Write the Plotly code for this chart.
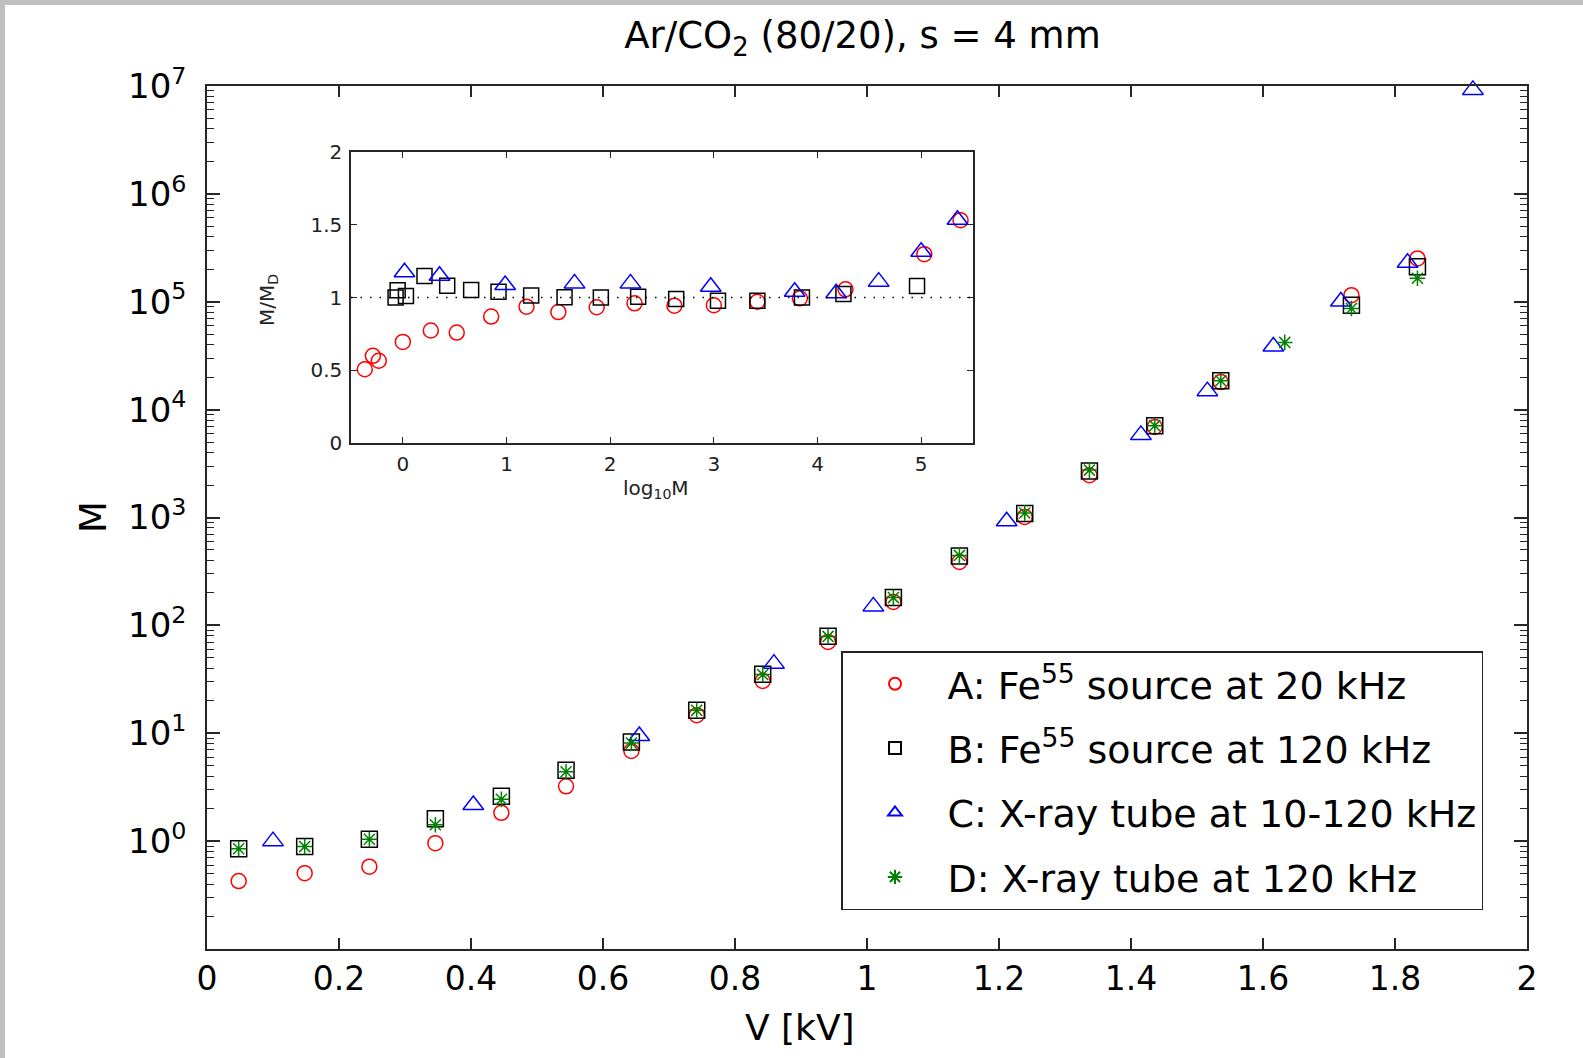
import plotly.graph_objects as go

# ---------------- main plot data ----------------
a_v = [0.048, 0.148, 0.246, 0.346, 0.446, 0.544, 0.643, 0.742, 0.842, 0.941,
       1.040, 1.140, 1.239, 1.337, 1.436, 1.536, 1.734, 1.834]
a_m = [0.426, 0.505, 0.58, 0.958, 1.83, 3.22, 6.84, 14.7, 30.5, 70.2,
       165, 387, 1012, 2466, 6900, 18000, 115000, 252000]

b_v = [0.048, 0.148, 0.246, 0.346, 0.446, 0.544, 0.643, 0.742, 0.842, 0.941,
       1.040, 1.140, 1.239, 1.337, 1.436, 1.536, 1.734, 1.834]
b_m = [0.85, 0.89, 1.04, 1.61, 2.61, 4.53, 8.28, 16.3, 35.2, 79.2,
       181, 440, 1089, 2703, 7070, 18480, 93000, 211000]

c_v = [0.100, 0.4035, 0.655, 0.859, 1.0096, 1.2116, 1.415, 1.5157, 1.6157, 1.718, 1.819, 1.918]
c_m = [1.0, 2.16, 9.42, 44.2, 150, 923, 5830, 14830, 38500, 100700, 229700, 9.2e6]

d_v = [0.048, 0.148, 0.246, 0.346, 0.446, 0.544, 0.643, 0.742, 0.842, 0.941,
       1.040, 1.140, 1.239, 1.337, 1.436, 1.536, 1.633, 1.734, 1.834]
d_m = [0.85, 0.89, 1.04, 1.42, 2.44, 4.4, 8.1, 16.3, 35.0, 79.0,
       181, 445, 1100, 2750, 7100, 18500, 42000, 86700, 165000]

# ---------------- inset data (log10 M vs M/M_D) ----------------
ia_x = [-0.367, -0.289, -0.232, 0.0, 0.27, 0.52, 0.852, 1.193, 1.50, 1.87,
        2.235, 2.62, 3.0, 3.42, 3.83, 4.27, 5.03, 5.38]
ia_y = [0.507, 0.599, 0.565, 0.695, 0.773, 0.759, 0.869, 0.937, 0.90, 0.933,
        0.96, 0.944, 0.947, 0.971, 0.994, 1.056, 1.298, 1.531]

ib_x = [-0.07, -0.05, 0.03, 0.209, 0.428, 0.659, 0.923, 1.238, 1.56, 1.91,
        2.27, 2.637, 3.04, 3.42, 3.85, 4.25, 4.96]
ib_y = [1.0, 1.05, 1.01, 1.147, 1.081, 1.051, 1.04, 1.013, 1.001, 1.0,
        1.006, 0.99, 0.978, 0.978, 1.0, 1.024, 1.079]

ic_x = [0.016, 0.354, 0.987, 1.656, 2.196, 2.97, 3.78, 4.18, 4.59, 5.0, 5.35]
ic_y = [1.173, 1.15, 1.086, 1.097, 1.097, 1.074, 1.04, 1.029, 1.109, 1.314, 1.534]

x_ticks = [0, 0.2, 0.4, 0.6, 0.8, 1.0, 1.2, 1.4, 1.6, 1.8, 2.0]
y_decades = [-1, 0, 1, 2, 3, 4, 5, 6, 7]
names = ["A: Fe<sup>55</sup> source at 20 kHz",
         "B: Fe<sup>55</sup> source at 120 kHz",
         "C: X-ray tube at 10-120 kHz",
         "D: X-ray tube at 120 kHz"]

FONT = "DejaVu Sans"
RED, BLK, BLU, GRN = "#ff0000", "#000000", "#0000ff", "#008000"

fig = go.Figure()

def mk(symbol, color, size, width=1.5):
    return dict(symbol=symbol, size=size, color=color, line=dict(color=color, width=width))

fig.add_trace(go.Scatter(x=a_v, y=a_m, mode="markers", name=names[0], legendgroup="a",
                         marker=mk("circle-open", RED, 15), cliponaxis=False))
fig.add_trace(go.Scatter(x=b_v, y=b_m, mode="markers", name=names[1], legendgroup="b",
                         marker=mk("square-open", BLK, 16), cliponaxis=False))
fig.add_trace(go.Scatter(x=c_v, y=c_m, mode="markers", name=names[2], legendgroup="c",
                         marker=mk("triangle-up-open", BLU, 18), cliponaxis=False))
fig.add_trace(go.Scatter(x=d_v, y=d_m, mode="markers", name=names[3], legendgroup="d",
                         marker=mk("asterisk-open", GRN, 13), cliponaxis=False))

fig.add_trace(go.Scatter(x=ia_x, y=ia_y, mode="markers", showlegend=False,
                         marker=mk("circle-open", RED, 15), xaxis="x2", yaxis="y2"))
fig.add_trace(go.Scatter(x=ib_x, y=ib_y, mode="markers", showlegend=False,
                         marker=mk("square-open", BLK, 15), xaxis="x2", yaxis="y2"))
fig.add_trace(go.Scatter(x=ic_x, y=ic_y, mode="markers", showlegend=False,
                         marker=mk("triangle-up-open", BLU, 18), xaxis="x2", yaxis="y2"))

W, H = 1583, 1058
L, R, T, B = 207, 1527, 86, 949
pw, ph = R - L, B - T

def px(X):
    return (X - L) / pw

def py(Y):
    return (B - Y) / ph

major_vals = [10.0 ** d for d in y_decades]
major_text = [""] + ["10<sup>%d</sup>" % d for d in y_decades[1:]]
minor_vals = [k * 10.0 ** d for d in y_decades[:-1] for k in range(2, 10)]

axis_line = "#262626"

fig.update_layout(
    width=W, height=H,
    margin=dict(l=L, r=W - R, t=T, b=H - B, pad=0),
    paper_bgcolor="white", plot_bgcolor="white",
    font=dict(family=FONT, size=33, color="black"),
    title=dict(text="Ar/CO<sub>2</sub> (80/20), s = 4 mm", x=0.4966, xref="paper",
               y=1 - 35 / H, yref="container", xanchor="center", yanchor="middle",
               font=dict(family=FONT, size=37, color="black")),
    xaxis=dict(range=[0, 2], tickmode="array", tickvals=x_ticks, ticks="inside", ticklen=11,
               tickwidth=1.5, tickcolor=axis_line, showline=True, linewidth=1.5,
               linecolor=axis_line, mirror="allticks", showgrid=False, zeroline=False,
               tickfont=dict(family=FONT, size=33, color="black"), ticklabelstandoff=0),
    yaxis=dict(type="log", range=[-1, 7], tickmode="array", tickvals=major_vals,
               ticktext=major_text, ticks="inside", ticklen=13, tickwidth=1.5,
               tickcolor=axis_line, showline=True, linewidth=1.5, linecolor=axis_line,
               mirror="allticks", showgrid=False, zeroline=False,
               tickfont=dict(family=FONT, size=34, color="black"), ticklabelstandoff=12,
               minor=dict(tickmode="array", tickvals=minor_vals, ticks="inside", ticklen=7,
                          tickwidth=1.2, tickcolor=axis_line, showgrid=False)),
    xaxis2=dict(domain=[px(351), px(973)], anchor="y2", range=[-0.5, 5.5], tickmode="array",
                tickvals=[0, 1, 2, 3, 4, 5], ticks="inside", ticklen=6, tickwidth=1.2,
                tickcolor=axis_line, showline=True, linewidth=1.5, linecolor=axis_line,
                mirror="allticks", showgrid=False, zeroline=False,
                tickfont=dict(family=FONT, size=20, color="#222"), ticklabelstandoff=2),
    yaxis2=dict(domain=[py(443), py(152)], anchor="x2", range=[0, 2], tickmode="array",
                tickvals=[0, 0.5, 1, 1.5, 2], ticktext=["0", "0.5", "1", "1.5", "2"],
                ticks="inside", ticklen=6, tickwidth=1.2,
                tickcolor=axis_line, showline=True, linewidth=1.5, linecolor=axis_line,
                mirror="allticks", showgrid=False, zeroline=False,
                tickfont=dict(family=FONT, size=20, color="#222"), ticklabelstandoff=3),
    legend=dict(x=px(841), y=py(651), xanchor="left", yanchor="top",
                bgcolor="white", bordercolor="#222", borderwidth=1.5,
                font=dict(family=FONT, size=38, color="black"),
                itemwidth=95, tracegroupgap=12, itemsizing="constant"),
    showlegend=True,
)

fig.add_shape(type="rect", xref="x2 domain", yref="y2 domain", x0=0, x1=1, y0=0, y1=1,
              fillcolor="#f5f5f5", line=dict(width=0), layer="below")
fig.add_shape(type="line", xref="x2 domain", yref="y2", x0=0, x1=1, y0=1, y1=1,
              line=dict(color="black", width=1.5, dash="1.5px,8px"), layer="above")

# grey window border strips (top and left)
fig.add_shape(type="rect", xref="paper", yref="paper", x0=px(0), x1=px(5), y0=py(H), y1=py(0),
              fillcolor="#c0c0c0", line=dict(width=0), layer="above")
fig.add_shape(type="rect", xref="paper", yref="paper", x0=px(0), x1=px(W), y0=py(5), y1=py(0),
              fillcolor="#c0c0c0", line=dict(width=0), layer="above")

fig.add_annotation(text="V [kV]", xref="paper", yref="paper", x=px(800), y=py(1027),
                   showarrow=False, xanchor="center", yanchor="middle",
                   font=dict(family=FONT, size=36, color="black"))
fig.add_annotation(text="M", xref="paper", yref="paper", x=px(93), y=py(517),
                   showarrow=False, xanchor="center", yanchor="middle", textangle=-90,
                   font=dict(family=FONT, size=37, color="black"))
fig.add_annotation(text="log<sub>10</sub>M", xref="paper", yref="paper", x=px(656), y=py(489),
                   showarrow=False, xanchor="center", yanchor="middle",
                   font=dict(family=FONT, size=20, color="#222"))
fig.add_annotation(text="M/M<sub>D</sub>", xref="paper", yref="paper", x=px(268), y=py(300),
                   showarrow=False, xanchor="center", yanchor="middle", textangle=-90,
                   font=dict(family=FONT, size=20, color="#222"))

fig.write_html("out.html")
